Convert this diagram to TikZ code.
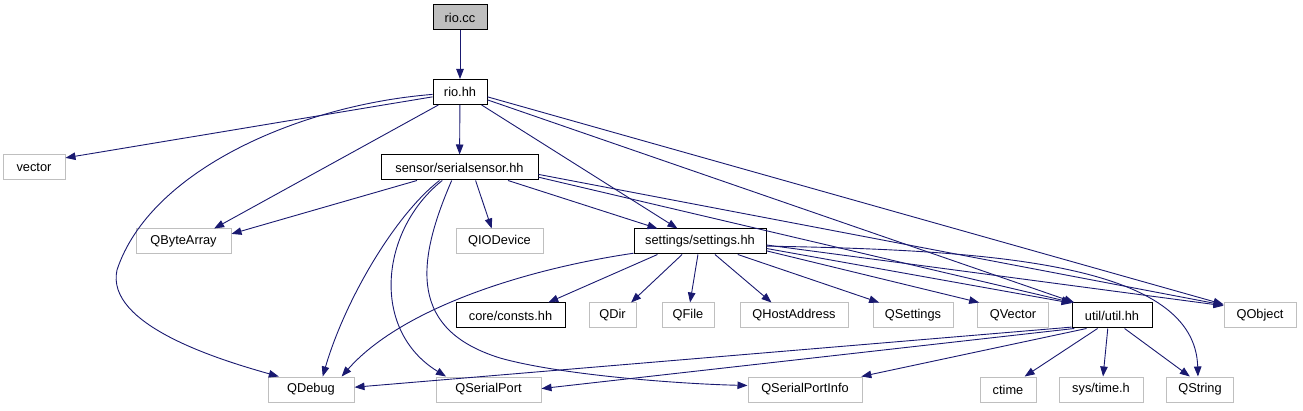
\documentclass[tikz,border=0pt]{standalone}
\usepackage{fontspec}
\setmainfont{Liberation Sans}
\usetikzlibrary{arrows.meta}
\definecolor{azulmedianoche}{HTML}{191970}
\definecolor{grisborde}{HTML}{BFBFBF}
\colorlet{colFlecha}{azulmedianoche}
\colorlet{colExterno}{grisborde}
\colorlet{colActual}{grisborde}
\tikzset{
  cajaBase/.style={
    draw=black, line width=1pt, fill=white,
    minimum height=25pt, inner sep=0pt,
    align=center, font=\fontsize{12.8}{15}\selectfont
  },
  cajaActual/.style={cajaBase, fill=colActual},
  cajaInterna/.style={cajaBase},
  cajaExterna/.style={cajaBase, draw=colExterno},
  flecha/.style={-{Triangle[length=10pt,width=7.5pt]}, line width=0.9pt, colFlecha},
}

\begin{document}
\begin{tikzpicture}[x=1pt, y=-1pt]
    \useasboundingbox (0,0) rectangle (1303,411);
    % filas del grafo de inclusiones
    \node[cajaActual, minimum width=54pt] (riocc) at (460,17.5) {rio.cc};
    \node[cajaInterna, minimum width=54pt] (riohh) at (460,92) {rio.hh};
    \node[cajaExterna, minimum width=62pt] (vector) at (34,167.5) {vector};
    \node[cajaInterna, minimum width=157pt] (sensor) at (459.5,167.5) {sensor/serialsensor.hh};
    \node[cajaExterna, minimum width=95pt] (qbytearray) at (183.5,241.5) {QByteArray};
    \node[cajaExterna, minimum width=87pt] (qiodevice) at (499.5,241.5) {QIODevice};
    \node[cajaInterna, minimum width=132pt] (settings) at (700,241.5) {settings/settings.hh};
    \node[cajaInterna, minimum width=109pt] (consts) at (510.5,315.5) {core/consts.hh};
    \node[cajaExterna, minimum width=47pt] (qdir) at (612.5,315.5) {QDir};
    \node[cajaExterna, minimum width=52pt] (qfile) at (688,315.5) {QFile};
    \node[cajaExterna, minimum width=108pt] (qhostaddress) at (794,315.5) {QHostAddress};
    \node[cajaExterna, minimum width=80pt] (qsettings) at (913,315.5) {QSettings};
    \node[cajaExterna, minimum width=71pt] (qvector) at (1013,315.5) {QVector};
    \node[cajaInterna, minimum width=80pt] (util) at (1112,315.5) {util/util.hh};
    \node[cajaExterna, minimum width=72pt] (qobject) at (1260,315.5) {QObject};
    \node[cajaExterna, minimum width=86pt] (qdebug) at (311,389.5) {QDebug};
    \node[cajaExterna, minimum width=105pt] (qserialport) at (488.5,389.5) {QSerialPort};
    \node[cajaExterna, minimum width=114pt] (qserialportinfo) at (805,389.5) {QSerialPortInfo};
    \node[cajaExterna, minimum width=56pt] (ctime) at (1008,389.5) {ctime};
    \node[cajaExterna, minimum width=84pt] (systime) at (1101,389.5) {sys/time.h};
    \node[cajaExterna, minimum width=67pt] (qstring) at (1200,389.5) {QString};

    % rio.cc y rio.hh
    \draw[flecha] (riocc) -- (riohh);
    \draw[flecha] (riohh.190) -- (vector.17);
    \draw[flecha] (riohh.185) .. controls (300,105) and (150,170) .. (117,270)
        .. controls (105,325) and (220,360) .. (qdebug.158);
    \draw[flecha] (riohh.211) -- (qbytearray.23);
    \draw[flecha] (riohh) -- (sensor);
    \draw[flecha] (riohh.-31) -- (settings.150);
    \draw[flecha] (riohh.-16.5) -- (util.161);
    \draw[flecha] (riohh.-10.5) -- (qobject.163);

    % sensor/serialsensor.hh
    \draw[flecha] (sensor.197.6) -- (qbytearray.9);
    \draw[flecha] (sensor.213) .. controls (395,215) and (345,300) .. (qdebug.48.7);
    \draw[flecha] (sensor.217) .. controls (380,230) and (370,330) .. (qserialport.163);
    \draw[flecha] (sensor.239) .. controls (415,265) and (410,330) .. (500,358)
        .. controls (560,375) and (680,384) .. (qserialportinfo.176.5);
    \draw[flecha] (sensor.-39) -- (qiodevice.121);
    \draw[flecha] (sensor.-15.4) -- (settings.163.4);
    \draw[flecha] (sensor.-7.6) -- (util.162.2);
    \draw[flecha] (sensor.-5.5) -- (qobject.164.4);

    % settings/settings.hh
    \draw[flecha] (settings.190) .. controls (520,270) and (400,310) .. (qdebug.23.3);
    \draw[flecha] (settings.197.4) -- (consts.19.9);
    \draw[flecha] (settings.216.3) -- (qdir.35.5);
    \draw[flecha] (settings.261) -- (qfile.81);
    \draw[flecha] (settings.-41.8) -- (qhostaddress.150.4);
    \draw[flecha] (settings.-19.7) -- (qsettings.159);
    \draw[flecha] (settings.-8.2) -- (qvector.159);
    \draw[flecha] (settings.-6.5) -- (util.163.6);
    \draw[flecha] (settings.-3) -- (qobject.165.5);
    \draw[flecha] (settings.-4.8) .. controls (1000,250) and (1195,265) .. (qstring.99);

    % util/util.hh
    \draw[flecha] (util.196) -- (qdebug.3.3);
    \draw[flecha] (util.199) -- (qserialport.1.6);
    \draw[flecha] (util.207.5) -- (qserialportinfo.13.3);
    \draw[flecha] (util.222) -- (ctime.38);
    \draw[flecha] (util.252.3) -- (systime.81);
    \draw[flecha] (util.-46) -- (qstring.128.7);
\end{tikzpicture}
\end{document}
